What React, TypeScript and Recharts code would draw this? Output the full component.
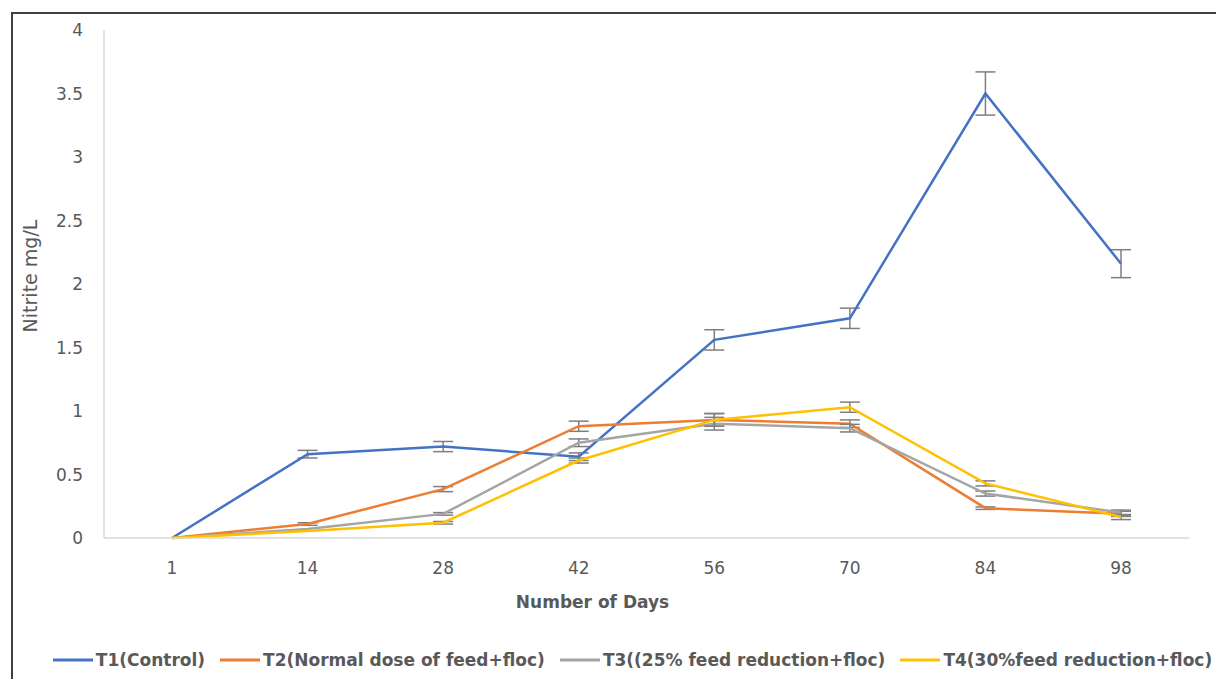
import React from 'react';
import { LineChart, Line, XAxis, YAxis, ErrorBar, Legend } from 'recharts';

const days = ['1', '14', '28', '42', '56', '70', '84', '98'];
const t1 = [0, 0.66, 0.72, 0.64, 1.56, 1.73, 3.5, 2.16];
const t1Err = [0, 0.03, 0.04, 0.03, 0.08, 0.08, 0.17, 0.11];
const t2 = [0, 0.11, 0.385, 0.88, 0.93, 0.9, 0.235, 0.19];
const t2Err = [0, 0.01, 0.02, 0.04, 0.05, 0.03, 0.01, 0.02];
const t3 = [0, 0.07, 0.19, 0.75, 0.9, 0.865, 0.35, 0.2];
const t3Err = [0, 0.0, 0.01, 0.03, 0.05, 0.03, 0.02, 0.02];
const t4 = [0, 0.055, 0.12, 0.61, 0.93, 1.03, 0.43, 0.165];
const t4Err = [0, 0.0, 0.01, 0.02, 0.05, 0.04, 0.02, 0.02];
const yTicks = [0, 0.5, 1, 1.5, 2, 2.5, 3, 3.5, 4];

const seriesNames = [
  'T1(Control)',
  'T2(Normal dose of feed+floc)',
  'T3((25% feed reduction+floc)',
  'T4(30%feed reduction+floc)',
];
const colors = ['#4472C4', '#ED7D31', '#A5A5A5', '#FFC000'];

const data = days.map((d, i) => ({
  day: d,
  t1: t1[i], t1e: t1Err[i],
  t2: t2[i], t2e: t2Err[i],
  t3: t3[i], t3e: t3Err[i],
  t4: t4[i], t4e: t4Err[i],
}));

const FONT = '"DejaVu Sans", sans-serif';
const TXT = '#595959';

const LegendContent = () => (
  <div style={{ display: 'flex', justifyContent: 'center', alignItems: 'center', fontFamily: FONT, fontSize: 17, fontWeight: 700, color: TXT, whiteSpace: 'nowrap', height: 20, lineHeight: '20px' }}>
    {seriesNames.map((n, i) => (
      <div key={n} style={{ display: 'flex', alignItems: 'center', marginRight: i < 3 ? 15 : 0 }}>
        <svg width={40} height={10} style={{ marginRight: 3 }}>
          <line x1={0} y1={5} x2={40} y2={5} stroke={colors[i]} strokeWidth={3} />
        </svg>
        <span>{n}</span>
      </div>
    ))}
  </div>
);

const YLabel = () => (
  <text x={30} y={276} transform="rotate(-90 30 276)" textAnchor="middle" dominantBaseline="central" fill={TXT} fontSize={19} fontFamily={FONT}>
    Nitrite mg/L
  </text>
);

export default function App() {
  return (
    <div style={{ position: 'absolute', left: 0, top: 0, width: 1216, height: 679, overflow: 'hidden', background: '#fff' }}>
      <div style={{ position: 'absolute', left: 11, top: 12, width: 1220, height: 700, borderLeft: '2px solid #404040', borderTop: '2px solid #404040' }} />
      <div style={{ position: 'absolute', left: 0, top: 0 }}>
        <LineChart width={1216} height={679} data={data} margin={{ top: 30, right: 27, left: 0, bottom: 51 }}>
          <XAxis
            dataKey="day"
            height={70}
            padding={{ left: 68, right: 68 }}
            tickLine={false}
            axisLine={{ stroke: '#d9d9d9', strokeWidth: 1.5 }}
            tick={{ fill: TXT, fontSize: 17, fontFamily: FONT }}
            tickMargin={18}
            label={{ value: 'Number of Days', position: 'insideBottom', offset: 0, dx: -54, style: { fill: TXT, fontSize: 17, fontWeight: 700, fontFamily: FONT } }}
          />
          <YAxis
            width={104}
            domain={[0, 4]}
            ticks={yTicks}
            interval={0}
            tickLine={false}
            axisLine={{ stroke: '#d9d9d9', strokeWidth: 1.5 }}
            tick={{ fill: TXT, fontSize: 17, fontFamily: FONT }}
            tickMargin={15}
            label={<YLabel />}
          />
          <Legend verticalAlign="bottom" wrapperStyle={{ bottom: 9, left: 38 }} content={<LegendContent />} />
          {['t1', 't2', 't3', 't4'].map((k, i) => (
            <Line key={k} type="linear" dataKey={k} name={seriesNames[i]} stroke={colors[i]} strokeWidth={2.5} dot={false} activeDot={false} isAnimationActive={false}>
              <ErrorBar dataKey={k + 'e'} width={10} stroke="#7f7f7f" strokeWidth={1.5} direction="y" />
            </Line>
          ))}
        </LineChart>
      </div>
    </div>
  );
}
